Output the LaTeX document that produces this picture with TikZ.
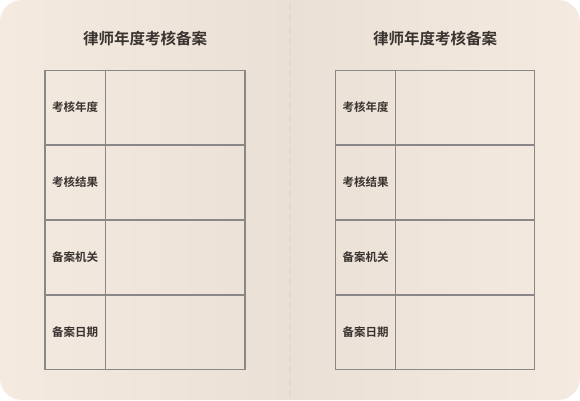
\documentclass[tikz,border=0pt]{standalone}
\usepackage{fontspec}
\newfontfamily\cjk{Noto Sans CJK SC}
\newfontfamily\cjkb{Noto Sans CJK SC Bold}
\definecolor{pageL}{HTML}{F5EAE0}
\definecolor{pageM}{HTML}{EBE0D5}
\definecolor{pageR}{HTML}{F5EAE0}
\definecolor{gridc}{HTML}{8A8887}
\definecolor{txt}{HTML}{3A3431}
\definecolor{spine}{HTML}{E3D9CF}
\begin{document}
\begin{tikzpicture}[x=1pt,y=-1pt,
  titletxt/.style={font=\cjkb\fontsize{15.5}{16}\selectfont, text=txt, inner sep=0pt},
  labeltxt/.style={font=\cjkb\fontsize{11.5}{12}\selectfont, text=txt, inner sep=0pt},
  gridline/.style={draw=gridc, line width=1.7pt}]
\useasboundingbox (0,0) rectangle (580,400);
\fill[white] (0,0) rectangle (580,400);
\begin{scope}
  \clip[rounded corners=22pt] (0,0) rectangle (580,400);
  \shade[left color=pageL, right color=pageM] (0,0) rectangle (290,400);
  \shade[left color=pageM, right color=pageR] (290,0) rectangle (580,400);
\end{scope}
\coordinate (spinetop) at (290,4);
\coordinate (spinebot) at (290,396);
\draw[spine, line width=2pt, dash pattern=on 7pt off 4pt] (spinetop) -- (spinebot);
% left form
\node[titletxt] (ltitle) at (145,39) {律师年度考核备案};
\draw[gridline] (45,70.5) rectangle (245,369.5);
\draw[gridline] (105.5,70.5) -- (105.5,369.5);
\foreach \y in {145,220,295} \draw[gridline] (45,\y) -- (245,\y);
\node[labeltxt] (l1) at (75.2,107.5) {考核年度};
\node[labeltxt] (l2) at (75.2,182.5) {考核结果};
\node[labeltxt] (l3) at (75.2,257.5) {备案机关};
\node[labeltxt] (l4) at (75.2,332.5) {备案日期};
% right form
\node[titletxt] (rtitle) at (435,39) {律师年度考核备案};
\draw[gridline] (335.5,70.5) rectangle (534.5,369.5);
\draw[gridline] (395.5,70.5) -- (395.5,369.5);
\foreach \y in {145,220,295} \draw[gridline] (335.5,\y) -- (534.5,\y);
\node[labeltxt] (r1) at (365.5,107.5) {考核年度};
\node[labeltxt] (r2) at (365.5,182.5) {考核结果};
\node[labeltxt] (r3) at (365.5,257.5) {备案机关};
\node[labeltxt] (r4) at (365.5,332.5) {备案日期};
\end{tikzpicture}
\end{document}
